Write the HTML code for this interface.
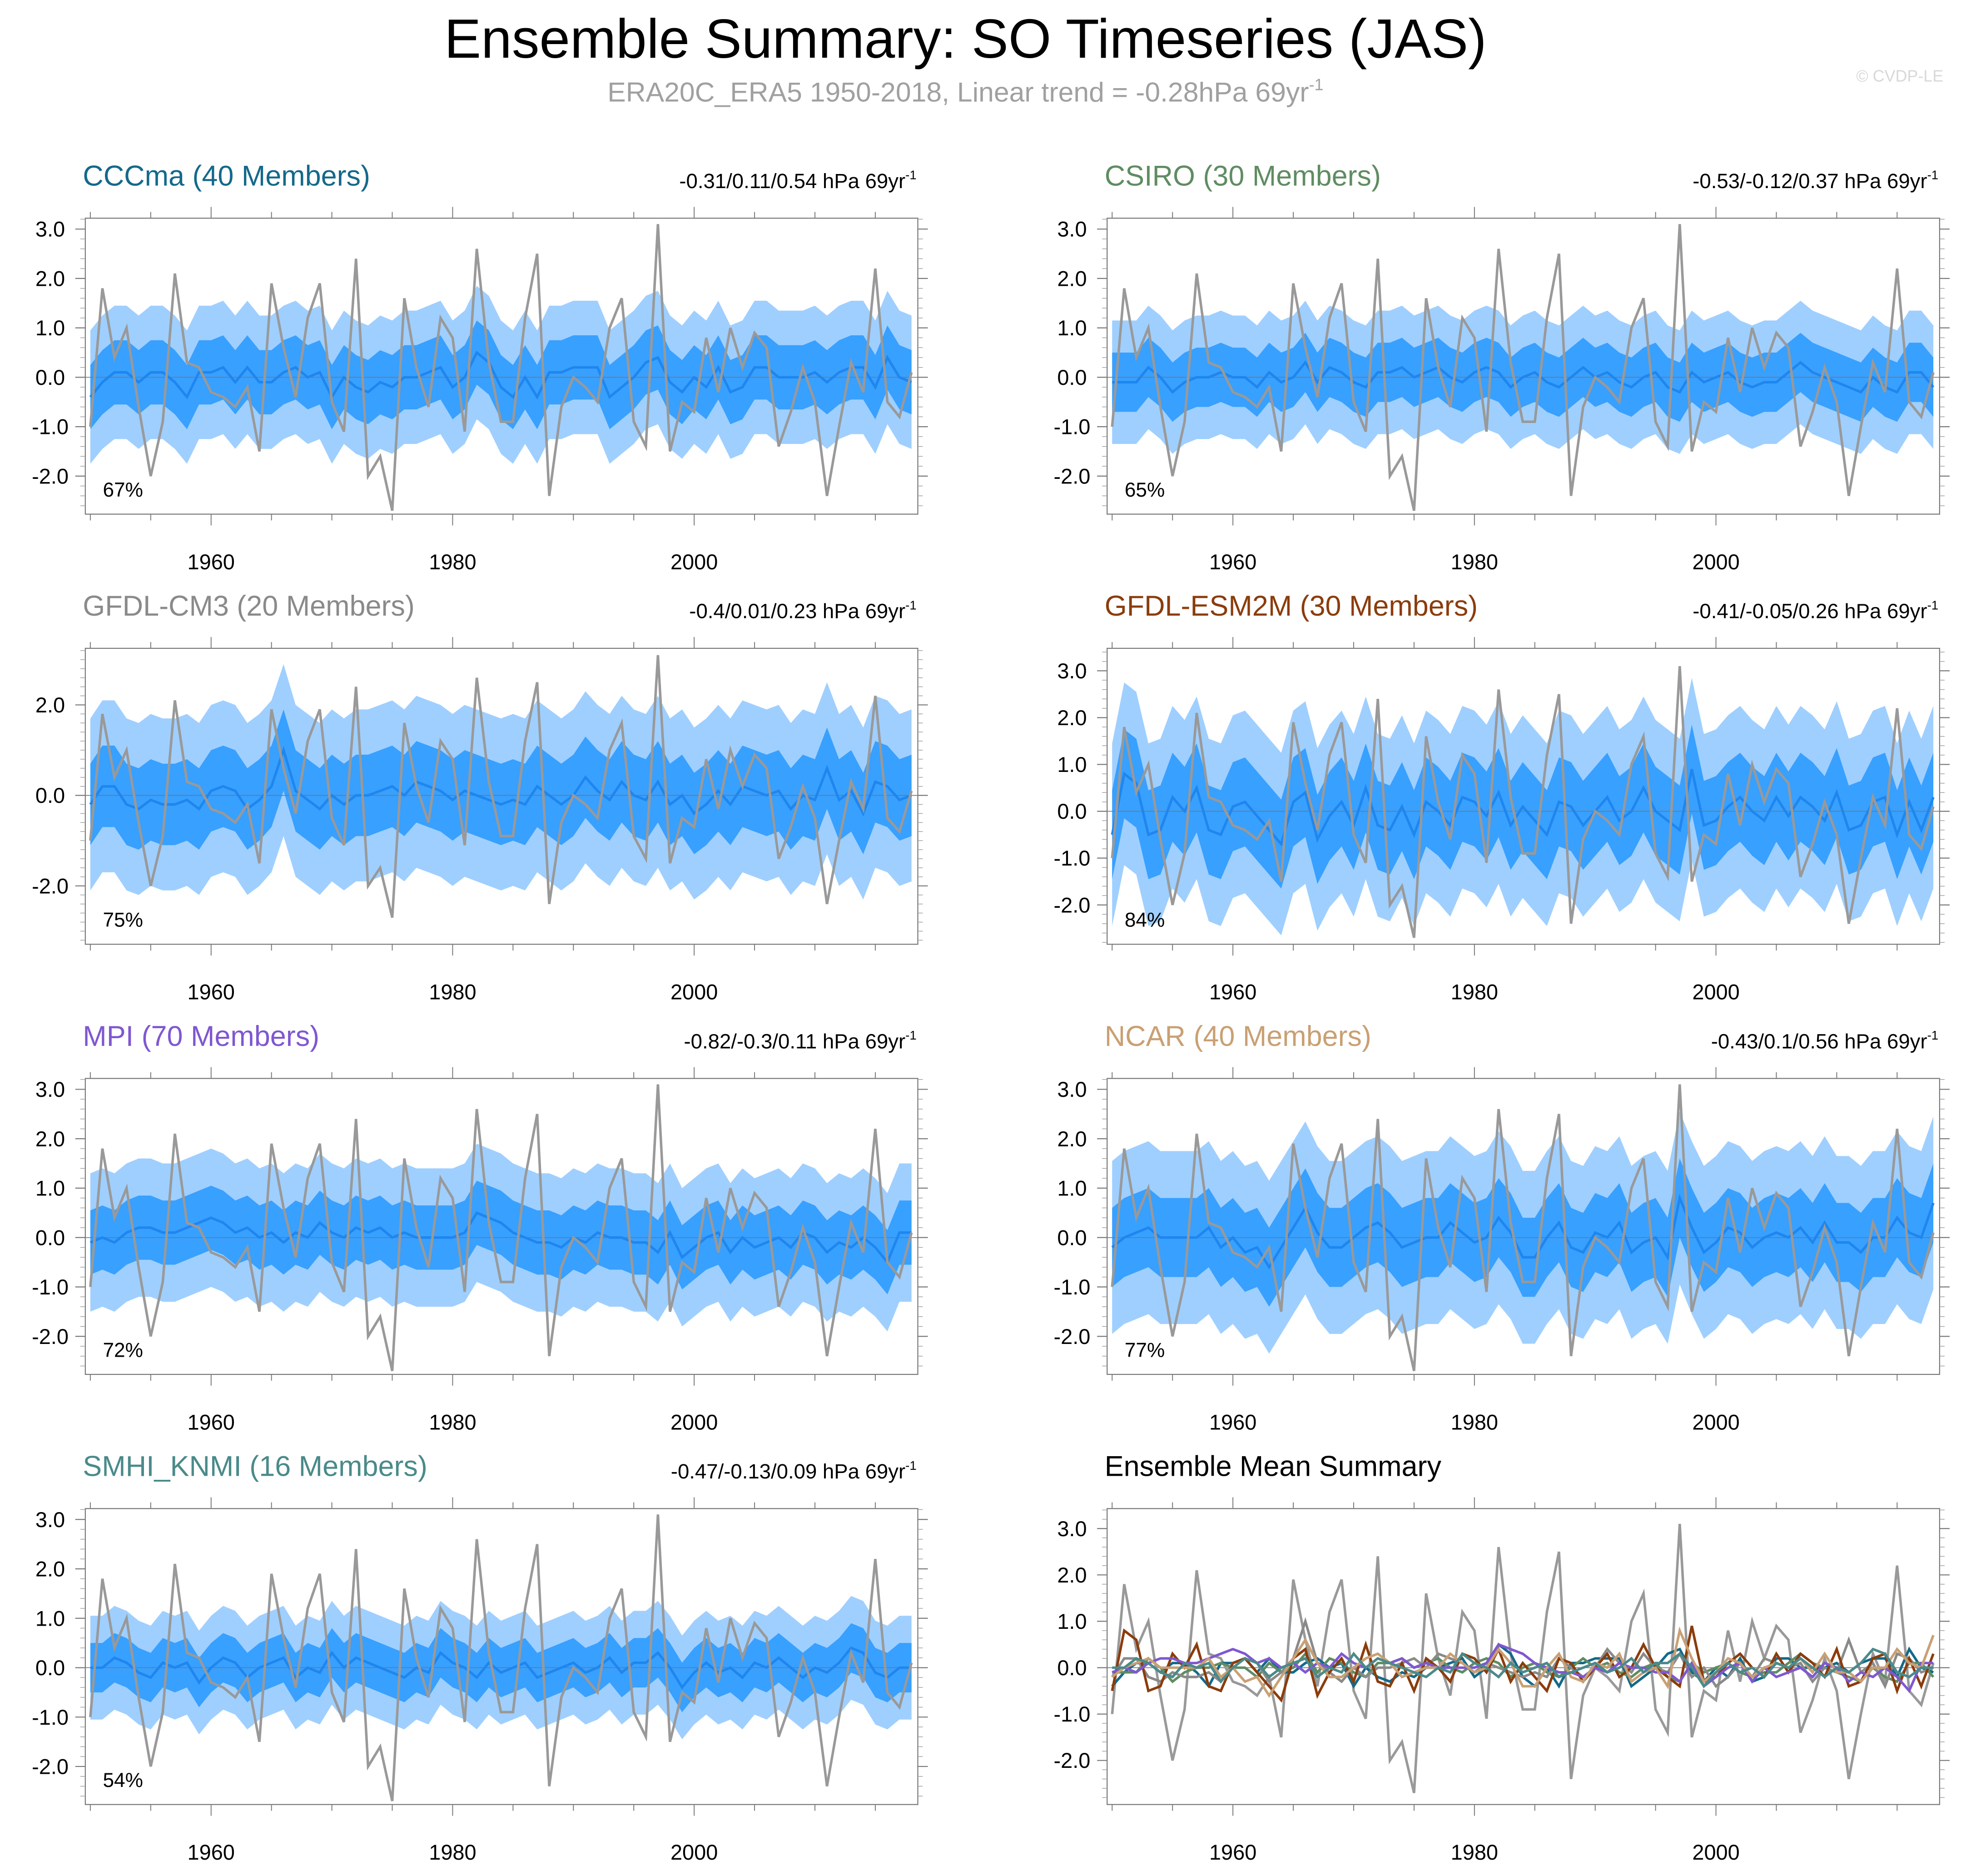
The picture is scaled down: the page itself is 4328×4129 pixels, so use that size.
<!DOCTYPE html>
<html><head><meta charset="utf-8"><style>
html,body{margin:0;padding:0;background:#fff;}
svg{display:block;font-family:"Liberation Sans",Arial,sans-serif;}
</style></head><body>
<svg id="chart" width="4328" height="4129" viewBox="0 0 1568 1496" xmlns="http://www.w3.org/2000/svg">
<rect width="1568" height="1496" fill="#fff"/>
<text x="770" y="46" font-size="44" text-anchor="middle" fill="#000">Ensemble Summary: SO Timeseries (JAS)</text>
<text x="770" y="81" font-size="22" text-anchor="middle" fill="#a0a0a0">ERA20C_ERA5 1950-2018, Linear trend = -0.28hPa 69yr<tspan font-size="13" dy="-9">-1</tspan></text>
<text x="1550" y="65" font-size="13" text-anchor="end" fill="#d8d8d8">© CVDP-LE</text>
<g id="panels"></g>
</svg>
<script>
const years=[];for(let y=1950;y<=2018;y++)years.push(y);
const obs=[-1.0,1.8,0.4,1.0,-0.6,-2.0,-0.9,2.1,0.3,0.2,-0.3,-0.4,-0.6,-0.2,-1.5,1.9,0.6,-0.4,1.2,1.9,-0.5,-1.1,2.4,-2.0,-1.6,-2.7,1.6,0.2,-0.6,1.2,0.8,-1.1,2.6,0.3,-0.9,-0.9,1.2,2.5,-2.4,-0.6,0.0,-0.2,-0.5,1.0,1.6,-0.9,-1.4,3.1,-1.5,-0.5,-0.7,0.8,-0.3,1.0,0.2,0.9,0.6,-1.4,-0.7,0.2,-0.5,-2.4,-1.0,0.3,-0.3,2.2,-0.5,-0.8,0.1];
const meanCCCma=[-0.4,-0.1,0.1,0.1,-0.1,0.1,0.1,-0.1,-0.4,0.1,0.1,0.2,-0.1,0.2,-0.1,-0.1,0.1,0.2,0.0,0.1,-0.4,0.0,-0.2,-0.3,-0.1,-0.2,0.0,0.0,0.1,0.2,-0.2,0.0,0.5,0.3,-0.2,-0.4,0.0,-0.4,0.1,0.1,0.2,0.2,0.2,-0.4,-0.2,0.0,0.3,0.4,-0.1,-0.3,0.0,-0.2,0.2,-0.3,-0.2,0.2,0.2,0.0,0.0,0.0,0.1,-0.1,0.1,0.2,0.2,-0.2,0.4,0.0,-0.1];
const meanCSIRO=[-0.1,-0.1,-0.1,0.2,0.0,-0.3,-0.1,0.0,0.0,0.1,0.0,0.0,-0.2,0.1,-0.1,0.0,0.3,-0.1,0.2,0.1,-0.1,-0.2,0.1,0.1,0.2,0.0,0.1,0.2,0.0,-0.1,0.1,0.2,0.1,-0.2,0.0,0.1,-0.1,-0.2,0.0,0.2,0.0,0.1,-0.1,-0.2,0.0,0.1,-0.2,-0.3,0.1,-0.1,0.0,0.1,-0.1,-0.2,-0.1,-0.1,0.1,0.3,0.1,0.0,-0.1,-0.2,-0.3,0.0,-0.2,-0.3,0.1,0.1,-0.2];
const meanCM3=[-0.2,0.2,0.2,-0.2,-0.3,-0.1,-0.2,-0.2,-0.1,-0.3,0.1,0.2,0.1,-0.3,-0.1,0.2,1.0,0.1,-0.1,-0.3,0.0,-0.2,0.0,0.0,0.1,0.2,0.0,0.3,0.2,0.1,-0.1,0.1,0.0,-0.1,-0.2,-0.1,-0.2,0.2,0.0,-0.2,0.0,0.4,0.1,-0.1,0.3,0.0,-0.1,0.3,-0.2,0.0,-0.4,-0.2,0.1,-0.2,0.2,0.1,0.0,0.1,-0.3,0.0,-0.1,0.6,-0.1,0.1,-0.4,0.3,0.2,-0.1,0.0];
const meanESM2M=[-0.5,0.8,0.6,-0.5,-0.4,0.3,0.0,0.5,-0.4,-0.5,0.1,0.2,-0.1,-0.4,-0.7,0.2,0.4,-0.6,-0.1,0.2,-0.3,0.5,-0.3,-0.4,0.1,-0.5,0.2,0.0,-0.3,0.3,0.2,-0.1,0.4,-0.3,0.1,-0.2,-0.5,0.2,0.1,-0.3,0.0,0.3,-0.2,0.0,0.5,0.0,-0.2,-0.4,0.9,-0.3,-0.2,0.1,0.3,0.0,-0.2,0.3,-0.1,0.3,0.1,-0.2,0.4,-0.4,-0.3,0.2,0.3,-0.5,0.2,-0.4,0.3];
const meanMPI=[-0.1,0.0,-0.1,0.1,0.2,0.2,0.1,0.1,0.2,0.3,0.4,0.3,0.1,0.2,0.0,0.1,-0.1,0.1,0.0,0.3,0.1,0.0,0.2,0.1,0.2,0.0,0.1,0.0,0.0,0.0,0.0,0.1,0.5,0.4,0.3,0.1,0.0,-0.1,-0.1,-0.2,0.0,-0.1,0.1,0.0,0.0,-0.1,-0.1,-0.3,0.1,-0.4,-0.2,0.0,0.1,-0.3,0.0,-0.2,-0.1,0.0,-0.2,0.1,0.0,-0.3,-0.1,-0.2,0.0,-0.2,-0.5,0.1,0.1];
const meanNCAR=[-0.2,0.0,0.1,0.2,0.0,0.0,0.0,0.0,0.2,-0.2,0.0,-0.3,-0.2,-0.6,-0.2,0.2,0.6,0.1,-0.2,-0.2,0.0,0.2,0.3,0.1,-0.2,-0.1,0.0,0.0,0.3,0.1,-0.1,0.0,0.4,0.1,-0.4,-0.4,0.0,0.3,-0.2,-0.3,0.1,0.0,0.3,-0.3,-0.1,0.0,-0.4,0.8,0.2,-0.3,-0.1,0.2,0.1,-0.2,0.0,0.1,0.0,0.2,-0.1,0.3,-0.1,-0.1,-0.3,0.0,0.0,0.4,0.1,0.0,0.7];
const meanSMHI=[0.0,0.0,0.2,0.1,-0.1,-0.2,0.1,0.0,0.1,-0.3,0.0,0.2,0.1,-0.2,0.0,0.1,0.2,-0.2,0.0,-0.1,0.3,0.0,0.2,0.1,0.0,-0.1,-0.2,0.0,-0.1,0.3,0.1,0.0,-0.2,0.1,-0.1,0.0,0.1,-0.2,-0.1,0.0,0.1,-0.1,0.0,0.2,-0.1,0.1,0.1,0.3,0.0,-0.4,-0.1,0.1,-0.1,0.0,-0.2,0.1,0.0,0.2,0.0,-0.2,0.0,-0.1,0.1,0.4,0.3,-0.1,-0.2,0.0,0.0];
const innerWidth=[0.65,0.6,0.9,0.95,0.65,0.8,0.5];
const outerWidth=[1.35,1.25,1.9,1.95,1.4,1.75,1.05];
const names=["CCCma (40 Members)","CSIRO (30 Members)","GFDL-CM3 (20 Members)","GFDL-ESM2M (30 Members)","MPI (70 Members)","NCAR (40 Members)","SMHI_KNMI (16 Members)"];
const trends=["-0.31/0.11/0.54 hPa 69yr","-0.53/-0.12/0.37 hPa 69yr","-0.4/0.01/0.23 hPa 69yr","-0.41/-0.05/0.26 hPa 69yr","-0.82/-0.3/0.11 hPa 69yr","-0.43/0.1/0.56 hPa 69yr","-0.47/-0.13/0.09 hPa 69yr"];
const pcts=["67%","65%","75%","84%","72%","77%","54%"];
const titleColors=["#14698a","#5f8c62","#8a8a8a","#8b3c0c","#7f57d1","#c9a074","#4a8a8a"];
const means=[meanCCCma,meanCSIRO,meanCM3,meanESM2M,meanMPI,meanNCAR,meanSMHI];
const ticksStd=[3,2,1,0,-1,-2];
const ticksCM3=[2,0,-2];
const yRanges=[[-2.77,3.22],[-2.77,3.22],[-3.29,3.25],[-2.84,3.48],[-2.77,3.22],[-2.77,3.22],[-2.77,3.22],[-2.95,3.43]];
const NS="http://www.w3.org/2000/svg";
const root=document.getElementById('panels');
function mk(tag,attrs,parent){const e=document.createElementNS(NS,tag);for(const k in attrs)e.setAttribute(k,attrs[k]);(parent||root).appendChild(e);return e;}
const colX=[68,883],rowY=[174,517,860,1203],PW=664,PH=236;
function panel(i){
  const col=i%2,row=Math.floor(i/2);
  const x0=colX[col],y0=rowY[row];
  const g=mk('g',{});
  
  
  const [ymin,ymax]=yRanges[i];
  const xs=v=>x0+4+(v-1950)/(68)*(PW-9);
  const ys=v=>y0+PH-(v-ymin)/(ymax-ymin)*PH;
  const ptsLine=arr=>arr.map((v,k)=>xs(years[k]).toFixed(2)+','+ys(v).toFixed(2)).join(' ');
  const band=(arr,w)=>{const up=arr.map((v,k)=>xs(years[k]).toFixed(2)+','+ys(v+w).toFixed(2));const dn=arr.map((v,k)=>xs(years[k]).toFixed(2)+','+ys(v-w).toFixed(2)).reverse();return up.concat(dn).join(' ');};
  if(i<7){
    const m=means[i];
    const ob=mk('polygon',{points:band(m,outerWidth[i]),fill:'#9fcfff'},g);
    
    const ib=mk('polygon',{points:band(m,innerWidth[i]),fill:'#38a0ff'},g);
    
  }
  const zl=mk('line',{x1:x0,x2:x0+PW,y1:ys(0),y2:ys(0),stroke:'#777','stroke-width':0.6},g);
  
  if(i<7){
    const ml=mk('polyline',{points:ptsLine(means[i]),fill:'none',stroke:'#1e86ee','stroke-width':2},g);
    
  }
  const ol=mk('polyline',{points:ptsLine(obs),fill:'none',stroke:'#999','stroke-width':2},g);
  
  if(i==7){
    means.forEach((m,k)=>{const l=mk('polyline',{points:ptsLine(m),fill:'none',stroke:titleColors[k],'stroke-width':2},g);
      });
  }
  const fr=mk('rect',{x:x0,y:y0,width:PW,height:PH,fill:'none',stroke:'#777','stroke-width':0.8},g);
  
  const ticks=(i==2)?ticksCM3:ticksStd;
  for(let v=Math.ceil(ymin*5)/5;v<=ymax;v+=0.2){const yy=ys(v);
    mk('line',{x1:x0,x2:x0-4,y1:yy,y2:yy,stroke:'#999','stroke-width':0.5},g);
    mk('line',{x1:x0+PW,x2:x0+PW+4,y1:yy,y2:yy,stroke:'#999','stroke-width':0.5},g);}
  ticks.forEach(v=>{const yy=ys(v);
    mk('line',{x1:x0,x2:x0-8,y1:yy,y2:yy,stroke:'#777','stroke-width':0.8},g);
    mk('line',{x1:x0+PW,x2:x0+PW+8,y1:yy,y2:yy,stroke:'#777','stroke-width':0.8},g);
    const t=mk('text',{x:x0-28,y:yy+6,'font-size':17,'text-anchor':'middle',fill:'#000'},g);t.textContent=v.toFixed(1);
    });
  for(let yr=1950;yr<=2015;yr+=5){const xx=xs(yr);const maj=yr%20==0;
    mk('line',{x1:xx,x2:xx,y1:y0+PH,y2:y0+PH+(maj?9:5),stroke:'#777','stroke-width':0.7},g);
    mk('line',{x1:xx,x2:xx,y1:y0,y2:y0-(maj?9:5),stroke:'#777','stroke-width':0.7},g);
    if(maj&&yr>=1960){const t=mk('text',{x:xx,y:y0+PH+44,'font-size':17,'text-anchor':'middle',fill:'#000'},g);t.textContent=yr;
      }}
  const tt=mk('text',{x:x0-2,y:y0-26,'font-size':22.8,fill:i<7?titleColors[i]:'#000'},g);
  tt.textContent=i<7?names[i]:'Ensemble Mean Summary';
  
  if(i<7){
    const tr=mk('text',{x:x0+PW-1,y:y0-24,'font-size':16.5,'text-anchor':'end',fill:'#000'},g);
    tr.textContent=trends[i];
    const sp=mk('tspan',{'font-size':10,dy:-7},tr);sp.textContent='-1';
    
    const pc=mk('text',{x:x0+14,y:y0+PH-14,'font-size':16,fill:'#000'},g);pc.textContent=pcts[i];
    
  }
}
for(let i=0;i<8;i++)panel(i);
</script>
</body></html>
